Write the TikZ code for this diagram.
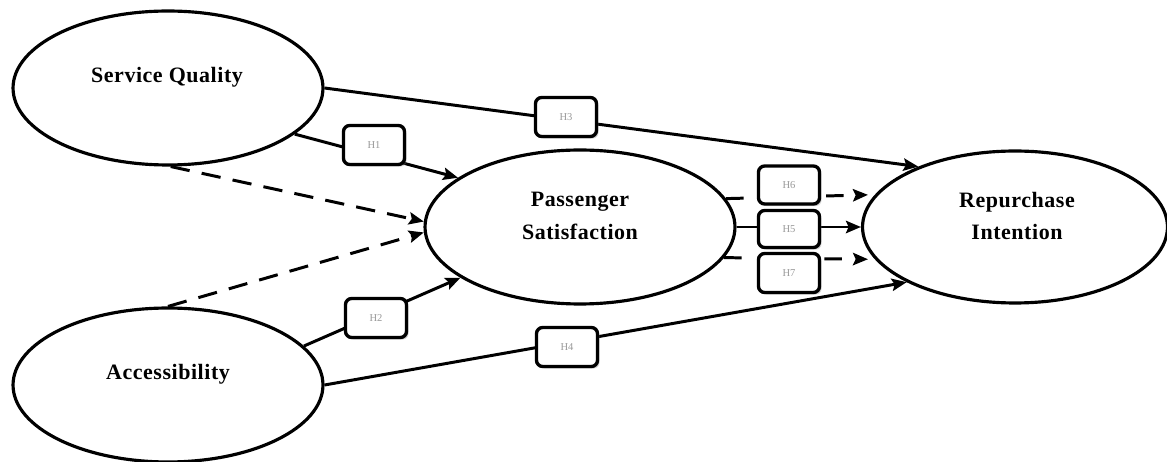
\documentclass[tikz,border=0pt]{standalone}
\usepackage{fontspec}
\setmainfont{Liberation Serif}
\usetikzlibrary{shapes.geometric,arrows.meta,shadows}
\begin{document}
\begin{tikzpicture}[x=0.02cm,y=-0.02cm,
  construct/.style={ellipse,draw,line width=1.8pt,minimum width=6.2cm,minimum height=3.08cm,inner sep=0pt,fill=white},
  ctext/.style={font=\fontsize{12.5}{18.7}\selectfont\bfseries\addfontfeature{LetterSpace=2.5},align=center,inner sep=0pt},
  hbox/.style={draw,line width=1.9pt,rounded corners=3.5pt,fill=white,minimum width=1.22cm,minimum height=0.78cm,inner sep=0pt,
    font=\fontsize{6}{7}\selectfont,text=black!40,drop shadow={shadow xshift=1.2pt,shadow yshift=-1.2pt,opacity=0.35}},
  conn/.style={line width=1.7pt,-{Stealth[length=8.5pt,width=7pt,inset=1.5pt]}},
  dconn/.style={conn,dash pattern=on 11pt off 7pt},
  sconn/.style={conn,dash pattern=on 10pt off 9pt}]
\useasboundingbox (0,0) rectangle (1167,462);
% constructs
\node[construct] (sq) at (168,88) {};
\node[construct] (ps) at (580,227) {};
\node[construct,minimum width=6.1cm,minimum height=3.04cm] (ri) at (1015,227) {};
\node[construct] (ac) at (168,385) {};
\node[ctext] (sqt) at (167,77) {Service Quality};
\node[ctext] (pst) at (580,216) {Passenger\\Satisfaction};
\node[ctext] (rit) at (1017,216) {Repurchase\\Intention};
\node[ctext] (act) at (168,374) {Accessibility};
% connectors
\draw[conn] (sq.east) -- (ri.148.7);
\draw[conn] (sq.-20.6) -- (ps.158.3);
\draw[dconn] (sq.-88) -- (ps.178.5);
\draw[dconn] (ac.north) -- (ps.182);
\draw[conn] (ac.16.6) -- (ps.203);
\draw[conn] (ac.east) -- (ri.207.4);
\draw[conn] (ps.east) -- (ri.west);
\draw[sconn,shorten >=0.14cm] (ps.11.9) -- (ri.167.9);
\draw[sconn,shorten >=0.14cm] (ps.-12.3) -- (ri.-167.5);
% hypothesis boxes
\node[hbox] (h1) at (374,145) {H1};
\node[hbox] (h3) at (566,117) {H3};
\node[hbox] (h2) at (376,318) {H2};
\node[hbox] (h4) at (567,347) {H4};
\node[hbox,minimum height=0.76cm] (h6) at (789,185) {H6};
\node[hbox,minimum height=0.74cm] (h5) at (789,229) {H5};
\node[hbox,minimum height=0.78cm] (h7) at (789,273) {H7};
\end{tikzpicture}
\end{document}
